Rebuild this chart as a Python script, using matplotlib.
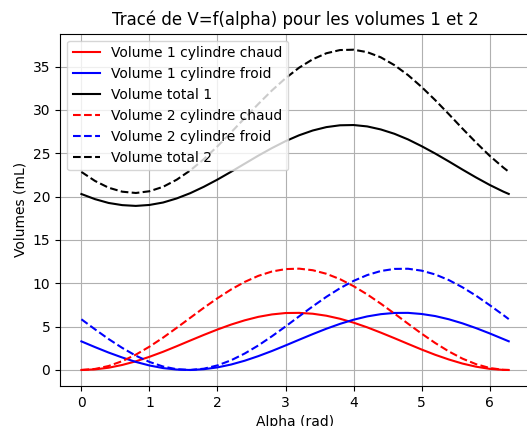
import matplotlib
matplotlib.use('Agg')
from matplotlib import pyplot as plt

# angle (rad) and volumes (mL)
alpha = [0.0, 0.2, 0.4, 0.6, 0.8, 1.0, 1.2, 1.4, 1.6, 1.8, 2.0, 2.2, 2.4, 2.6, 2.8, 3.0,
         3.2, 3.4, 3.6, 3.8, 4.0, 4.2, 4.4, 4.6, 4.8, 5.0, 5.2, 5.4, 5.6, 5.8, 6.0, 6.2, 6.28]

chaud1 = [0.00, 0.07, 0.26, 0.58, 1.00, 1.52, 2.10, 2.74, 3.40, 4.05, 4.67, 5.24, 5.73, 6.13,
          6.41, 6.57, 6.59, 6.49, 6.26, 5.91, 5.46, 4.92, 4.31, 3.67, 3.01, 2.36, 1.75, 1.21,
          0.74, 0.38, 0.13, 0.01, 0.00]
froid1 = [3.30, 2.64, 2.01, 1.44, 0.93, 0.52, 0.22, 0.05, 0.00, 0.09, 0.30, 0.63, 1.07, 1.60,
          2.19, 2.83, 3.49, 4.14, 4.76, 5.32, 5.80, 6.18, 6.44, 6.58, 6.59, 6.46, 6.22, 5.85,
          5.38, 4.83, 4.22, 3.57, 3.31]
total1 = [20.30, 19.71, 19.27, 19.02, 18.93, 19.04, 19.32, 19.79, 20.40, 21.14, 21.97, 22.87,
          23.80, 24.73, 25.60, 26.40, 27.08, 27.63, 28.02, 28.23, 28.26, 28.10, 27.75, 27.25,
          26.60, 25.82, 24.97, 24.06, 23.12, 22.21, 21.35, 20.58, 20.31]

chaud2 = [0.00, 0.12, 0.46, 1.02, 1.77, 2.69, 3.73, 4.86, 6.02, 7.18, 8.28, 9.29, 10.16, 10.86,
          11.36, 11.64, 11.69, 11.51, 11.10, 10.48, 9.67, 8.72, 7.65, 6.51, 5.34, 4.19, 3.11,
          2.14, 1.31, 0.67, 0.23, 0.02, 0.00]
froid2 = [5.85, 4.69, 3.57, 2.55, 1.65, 0.93, 0.40, 0.09, 0.00, 0.15, 0.53, 1.12, 1.90, 2.83,
          3.89, 5.02, 6.19, 7.34, 8.44, 9.43, 10.28, 10.95, 11.42, 11.66, 11.68, 11.46, 11.02,
          10.37, 9.54, 8.57, 7.48, 6.34, 5.87]
total2 = [22.85, 21.81, 21.03, 20.57, 20.42, 20.62, 21.13, 21.95, 23.02, 24.33, 25.81, 27.41,
          29.06, 30.69, 32.25, 33.66, 34.88, 35.85, 36.54, 36.91, 36.95, 36.67, 36.07, 35.17,
          34.02, 32.65, 31.13, 29.51, 27.85, 26.24, 24.71, 23.36, 22.87]

fig = plt.figure(figsize=(5.27, 4.26), dpi=100)
# the reference is cropped: right spine falls just outside the picture
ax = fig.add_axes([0.1139, 0.0939, 0.892, 0.827])

ax.plot(alpha, chaud1, color='r', lw=1.5, label='Volume 1 cylindre chaud')
ax.plot(alpha, froid1, color='b', lw=1.5, label='Volume 1 cylindre froid')
ax.plot(alpha, total1, color='k', lw=1.5, label='Volume total 1')
ax.plot(alpha, chaud2, 'r--', lw=1.5, label='Volume 2 cylindre chaud')
ax.plot(alpha, froid2, 'b--', lw=1.5, label='Volume 2 cylindre froid')
ax.plot(alpha, total2, 'k--', lw=1.5, label='Volume total 2')

ax.grid(True)
ax.set_xlabel('Alpha (rad)')
ax.set_ylabel('Volumes (mL)')
ax.set_title('Tracé de V=f(alpha) pour les volumes 1 et 2')
ax.legend(loc='upper left')

fig.savefig('out.png', dpi=100)
